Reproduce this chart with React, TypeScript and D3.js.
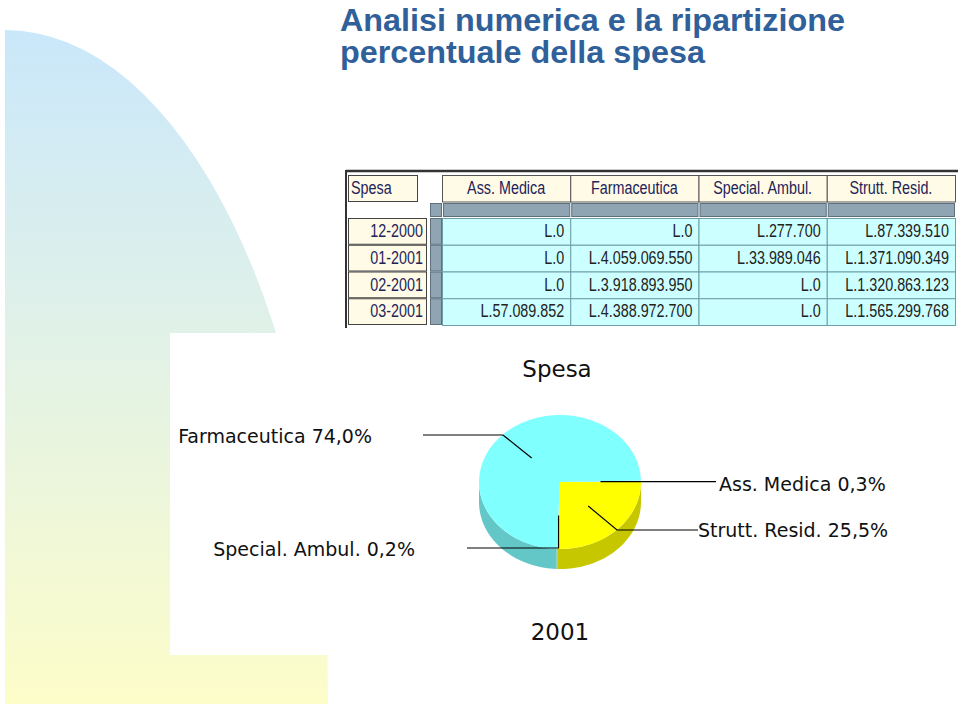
import * as d3 from "d3";

// table data (lire)
const months = ["12-2000", "01-2001", "02-2001", "03-2001"];
const columns = ["Ass. Medica", "Farmaceutica", "Special. Ambul.", "Strutt. Resid."];
const assMedica = [0, 0, 0, 57089852];
const farmaceutica = [0, 4059069550, 3918893950, 4388972700];
const specialAmbul = [277700, 33989046, 0, 0];
const struttResid = [87339510, 1371090349, 1320863123, 1565299768];
const series = [assMedica, farmaceutica, specialAmbul, struttResid];

// pie: 2001 share, drawn clockwise in this order
const pieYear = "2001";
const pieOrder = ["Ass. Medica", "Strutt. Resid.", "Special. Ambul.", "Farmaceutica"];
const sliceColors: Record<string, string> = {
  "Ass. Medica": "#9ee6f2",
  Farmaceutica: "#80ffff",
  "Special. Ambul.": "#b8e8c0",
  "Strutt. Resid.": "#ffff00",
};

// leader line layout for the pie labels
const leaders: Record<string, { ex: number | null; ey: number | null; end: number; tx: number; ty: number; anchor: string }> = {
  Farmaceutica: { ex: 503, ey: 435, end: 423, tx: 372, ty: 443, anchor: "end" },
  "Ass. Medica": { ex: null, ey: null, end: 716, tx: 719, ty: 491, anchor: "start" },
  "Strutt. Resid.": { ex: 617, ey: 530, end: 698, tx: 698, ty: 537, anchor: "start" },
  "Special. Ambul.": { ex: null, ey: 548, end: 467, tx: 415, ty: 556, anchor: "end" },
};

const W = 960;
const H = 704;
const sans = "'Liberation Sans', Arial, sans-serif";
const labelFont = "'DejaVu Sans', Verdana, sans-serif";
const squeeze = 0.82; // no narrow font installed, condense Liberation Sans instead

const lire = (v: number) => "L." + d3.format(",")(v).replace(/,/g, ".");
const pctFmt = (v: number) => d3.format(".1f")(v).replace(".", ",") + "%";

const Narrow = ({ x, y, anchor = "start", fill, children }: { x: number; y: number; anchor?: string; fill: string; children: any }) => (
  <text transform={`translate(${x},${y}) scale(${squeeze},1)`} textAnchor={anchor} fill={fill}>
    {children}
  </text>
);

export default function App() {
  // ---- table geometry
  const x = d3.scaleBand<string>().domain(columns).range([442, 955]);
  const y = d3.scaleBand<string>().domain(months).range([218, 325]);
  const bw = x.bandwidth();
  const bh = y.bandwidth();

  // ---- pie geometry
  const cx = 560;
  const cy = 482;
  const R = 81;
  const ry = 67;
  const depth = 20;

  const totals = new Map(
    columns.map((c, i) => [c, d3.sum(series[i].filter((_, j) => months[j].endsWith(pieYear)))])
  );
  const grand = d3.sum(Array.from(totals.values()));
  const firstShare = (totals.get(pieOrder[0]) ?? 0) / grand;
  const start = Math.PI / 2 - firstShare * 2 * Math.PI;

  const arcs = d3
    .pie<string>()
    .sort(null)
    .value((c) => totals.get(c) ?? 0)
    .startAngle(start)
    .endAngle(start + 2 * Math.PI)(pieOrder);

  const arcGen = d3.arc<d3.PieArcDatum<string>>().innerRadius(0).outerRadius(R);
  const pt = (a: number, f = 1, dy = 0): [number, number] => [cx + R * f * Math.sin(a), cy - ry * f * Math.cos(a) + dy];

  const sidePath = (a0: number, a1: number) => {
    const lo = Math.max(a0, Math.PI / 2);
    const hi = Math.min(a1, (3 * Math.PI) / 2);
    if (hi <= lo) return null;
    const steps = 40;
    const angs = d3.range(steps + 1).map((i) => lo + ((hi - lo) * i) / steps);
    const top = angs.map((a) => pt(a));
    const bot = angs.slice().reverse().map((a) => pt(a, 1, depth));
    return "M" + top.concat(bot).map((p) => p.join(",")).join("L") + "Z";
  };

  return (
    <svg width={W} height={H} style={{ position: "absolute", left: 0, top: 0, background: "#fff" }}>
      <defs>
        <linearGradient id="bg" x1="0" y1="22" x2="0" y2="704" gradientUnits="userSpaceOnUse">
          <stop offset="0" stopColor="#c9e7fb" />
          <stop offset="0.45" stopColor="#e0f1e8" />
          <stop offset="1" stopColor="#fdfdc9" />
        </linearGradient>
      </defs>

      {/* slide decoration */}
      <path d="M5,704 L5,30 A323,664 0 0,1 328,694 L328,704 Z" fill="url(#bg)" />
      <rect x={170} y={333} width={790} height={322} fill="#fff" />

      {/* title */}
      <g fontFamily={sans} fontWeight="bold" fontSize={32} fill="#30609a">
        <text x={340} y={31} textLength={505} lengthAdjust="spacingAndGlyphs">
          Analisi numerica e la ripartizione
        </text>
        <text x={340} y={63} textLength={365} lengthAdjust="spacingAndGlyphs">
          percentuale della spesa
        </text>
      </g>

      {/* table */}
      <g fontFamily={sans} fontSize={17.5}>
        <line x1={346} x2={958} y1={171} y2={171} stroke="#333" strokeWidth={2.5} />
        <line x1={346} x2={346} y1={170} y2={328} stroke="#333" strokeWidth={2} />

        <rect x={348.5} y={175.5} width={69} height={26} fill="#fffbe6" stroke="#444" />
        <Narrow x={351} y={194} fill="#23235a">Spesa</Narrow>

        {columns.map((c) => (
          <g key={c}>
            <rect x={x(c)! + 0.5} y={175.5} width={bw} height={26.5} fill="#fffbe6" stroke="#555" />
            <Narrow x={x(c)! + bw / 2} y={194} anchor="middle" fill="#23235a">{c}</Narrow>
            <rect x={x(c)! + 1.5} y={203.5} width={bw - 2} height={13} fill="#8fa5b4" stroke="#5d707c" />
          </g>
        ))}
        <rect x={430.5} y={203.5} width={11} height={13} fill="#8fa5b4" stroke="#5d707c" />

        {months.map((m, j) => (
          <g key={m}>
            <rect x={348.5} y={y(m)! + 0.5} width={78} height={bh - 1} fill="#fffbe6" stroke="#444" />
            <Narrow x={423} y={y(m)! + 19} anchor="end" fill="#23235a">{m}</Narrow>
            <rect x={430.5} y={y(m)! + 0.5} width={11} height={bh - 1} fill="#8fa5b4" stroke="#5d707c" />
            {columns.map((c, i) => (
              <g key={c}>
                <rect x={x(c)! + 0.5} y={y(m)! + 0.5} width={bw} height={bh} fill="#ccffff" stroke="#6f9ea8" />
                <Narrow x={x(c)! + bw - 6} y={y(m)! + 19} anchor="end" fill="#222">
                  {lire(series[i][j])}
                </Narrow>
              </g>
            ))}
          </g>
        ))}
      </g>

      {/* pie */}
      <text x={cx - 3} y={377} textAnchor="middle" fontFamily={labelFont} fontSize={23} fill="#111">Spesa</text>
      <text x={cx} y={640} textAnchor="middle" fontFamily={labelFont} fontSize={23} fill="#111">{pieYear}</text>

      {arcs.map((a) => {
        const d = sidePath(a.startAngle, a.endAngle);
        return d ? <path key={a.data} d={d} fill={d3.color(sliceColors[a.data])!.darker(0.7).toString()} /> : null;
      })}
      <g transform={`translate(${cx},${cy}) scale(1,${ry / R})`}>
        {arcs.map((a) => (
          <path key={a.data} d={arcGen(a)!} fill={sliceColors[a.data]} />
        ))}
      </g>

      <g fontFamily={labelFont} fontSize={19} fill="#111">
        {arcs.map((a) => {
          const L = leaders[a.data];
          const mid = (a.startAngle + a.endAngle) / 2;
          const [ax, ay] = pt(mid, 0.5);
          const ex = L.ex ?? ax;
          const ey = L.ey ?? ay;
          const pct = ((totals.get(a.data) ?? 0) / grand) * 100;
          return (
            <g key={a.data}>
              <polyline
                points={`${ax},${ay} ${ex},${ey} ${L.end},${ey}`}
                fill="none"
                stroke="#000"
                strokeWidth={1.2}
              />
              <text x={L.tx} y={L.ty} textAnchor={L.anchor}>
                {a.data} {pctFmt(pct)}
              </text>
            </g>
          );
        })}
      </g>
    </svg>
  );
}
